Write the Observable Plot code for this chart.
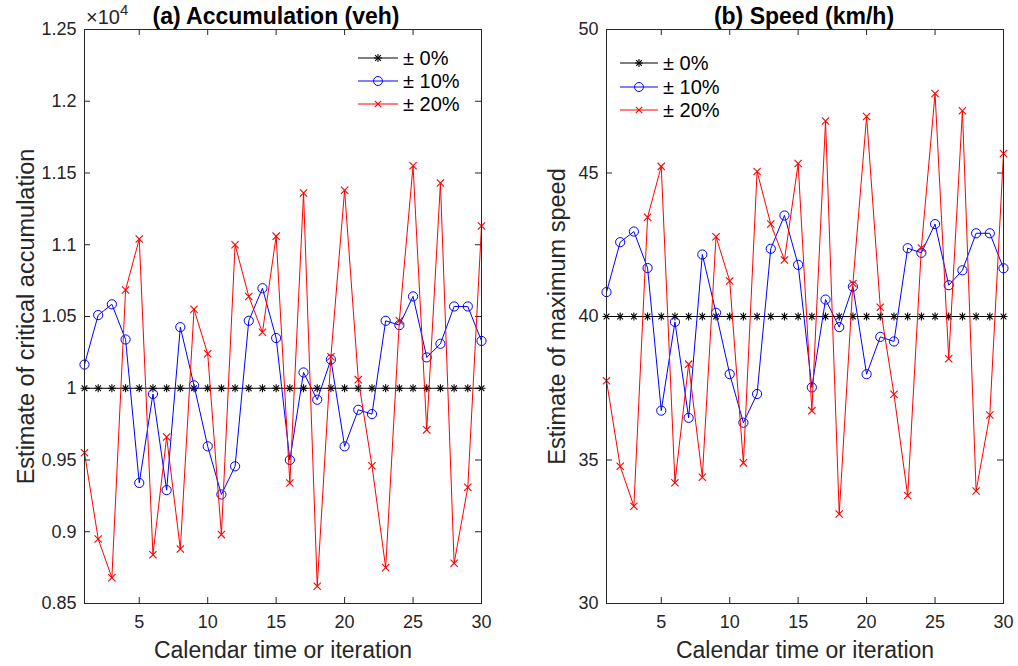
<!DOCTYPE html>
<html>
<head>
<meta charset="utf-8">
<script src="https://cdn.jsdelivr.net/npm/d3@7"></script>
<script src="https://cdn.jsdelivr.net/npm/@observablehq/plot@0.6"></script>
<style>
  html, body { margin: 0; padding: 0; background: #fff; }
  #wrap { position: relative; width: 1018px; height: 666px; background: #fff; overflow: hidden;
          font-family: "Liberation Sans", Arial, Helvetica, sans-serif; }
  #left, #right { position: absolute; top: 0; }
  #left { left: 0; }
  #right { left: 509px; }
  #overlay { position: absolute; left: 0; top: 0; pointer-events: none; }
</style>
</head>
<body>
<div id="wrap">
  <div id="left"></div>
  <div id="right"></div>
  <svg id="overlay" width="1018" height="666"></svg>
</div>
<script>
// ---------------- data ----------------
const iterations = d3.range(1, 31);
const seriesNames = ["± 0%", "± 10%", "± 20%"];
const seriesColors = ["#000000", "#0000ff", "#ff0000"];

// (a) Accumulation (veh)
const acc0 = [10000,10000,10000,10000,10000,10000,10000,10000,10000,10000,
              10000,10000,10000,10000,10000,10000,10000,10000,10000,10000,
              10000,10000,10000,10000,10000,10000,10000,10000,10000,10000];
const acc10 = [10165,10510,10585,10340,9340,9960,9290,10426,10020,9595,
               9260,9456,10470,10697,10350,9500,10110,9920,10200,9595,
               9850,9820,10470,10440,10640,10215,10310,10570,10570,10330];
const acc20 = [9550,8950,8680,10685,11040,8840,9660,8880,10550,10240,
               8980,11000,10640,10390,11060,9340,11360,8620,10220,11380,
               10060,9460,8750,10470,11550,9710,11430,8780,9310,11130];

// (b) Speed (km/h)
const spd0 = [40,40,40,40,40,40,40,40,40,40,40,40,40,40,40,
              40,40,40,40,40,40,40,40,40,40,40,40,40,40,40];
const spd10 = [40.85,42.59,42.96,41.69,36.72,39.81,36.47,42.16,40.13,37.99,
               36.30,37.30,42.36,43.52,41.80,37.53,40.59,39.63,41.04,37.99,
               39.29,39.13,42.38,42.22,43.22,41.09,41.61,42.90,42.90,41.68];
const spd20 = [37.76,34.78,33.39,43.46,45.23,34.21,38.34,34.40,42.78,41.24,
               34.90,45.05,43.22,41.97,45.33,36.72,46.81,33.12,41.15,46.97,
               40.32,37.29,33.76,42.39,47.77,38.53,47.17,33.92,36.57,45.68];

// ticks and labels
const xTicks = [5, 10, 15, 20, 25, 30];
const accTicks = [8500, 9000, 9500, 10000, 10500, 11000, 11500, 12000, 12500];
const spdTicks = [30, 35, 40, 45, 50];
const xLabel = "Calendar time or iteration";
const accYLabel = "Estimate of critical accumulation";
const spdYLabel = "Estimate of maximum speed";
const accTitle = "(a) Accumulation (veh)";
const spdTitle = "(b) Speed (km/h)";

// --------------- build ---------------
const FONT = '"Liberation Sans", Arial, Helvetica, sans-serif';
const AX = "#262626";
const W = 509, H = 666, MT = 29, MB = 63;
const plotW = 397, plotH = H - MT - MB;
const TL = 6; // inward tick length

function table(vals) {
  return iterations.map((x, i) => ({x, y: vals[i]}));
}

function panel({series, ticks, domain, marginLeft, marginRight, yFormat, yLabel, yLabelDx}) {
  const [s0, s1, s2] = series.map(table);
  return Plot.plot({
    width: W, height: H,
    marginLeft, marginRight, marginTop: MT, marginBottom: MB,
    x: {domain: [1, 30]},
    y: {domain},
    style: {fontFamily: FONT, fontSize: "18px", color: AX, background: "#fff", overflow: "visible"},
    marks: [
      Plot.axisX(xTicks, {tickSize: 0, tickPadding: 12, label: null, fontSize: 18}),
      Plot.axisY(ticks, {tickSize: 0, tickPadding: 8, tickFormat: yFormat, label: null, fontSize: 18}),
      // inward ticks on all four sides (MATLAB box style)
      Plot.tickX(xTicks, {x: d => d, insetTop: plotH - TL, stroke: AX}),
      Plot.tickX(xTicks, {x: d => d, insetBottom: plotH - TL, stroke: AX}),
      Plot.tickY(ticks, {y: d => d, insetRight: plotW - TL, stroke: AX}),
      Plot.tickY(ticks, {y: d => d, insetLeft: plotW - TL, stroke: AX}),
      // ± 0%
      Plot.line(s0, {x: "x", y: "y", stroke: seriesColors[0], strokeWidth: 1}),
      Plot.dot(s0, {x: "x", y: "y", symbol: "plus", r: 2.7, stroke: seriesColors[0], strokeWidth: 1.1}),
      Plot.dot(s0, {x: "x", y: "y", symbol: "times", r: 2.7, stroke: seriesColors[0], strokeWidth: 1.1}),
      // ± 10%
      Plot.line(s1, {x: "x", y: "y", stroke: seriesColors[1], strokeWidth: 1}),
      Plot.dot(s1, {x: "x", y: "y", symbol: "circle", r: 4.6, stroke: seriesColors[1], fill: "none", strokeWidth: 1}),
      // ± 20%
      Plot.line(s2, {x: "x", y: "y", stroke: seriesColors[2], strokeWidth: 1}),
      Plot.dot(s2, {x: "x", y: "y", symbol: "times", r: 3.4, stroke: seriesColors[2], strokeWidth: 1.1}),
      Plot.frame({stroke: AX, strokeWidth: 1}),
      // axis labels
      Plot.text([xLabel], {text: d => d, frameAnchor: "bottom", dy: 47, fontSize: 23, fill: AX,
                           textAnchor: "middle", lineAnchor: "middle"}),
      Plot.text([yLabel], {text: d => d, frameAnchor: "left", dx: yLabelDx, rotate: -90, fontSize: 23.5, fill: AX,
                           textAnchor: "middle", lineAnchor: "middle"})
    ]
  });
}

document.getElementById("left").appendChild(panel({
  series: [acc0, acc10, acc20], ticks: accTicks, domain: [8500, 12500],
  marginLeft: 84, marginRight: W - 84 - plotW,
  yFormat: d => String(+(d / 1e4).toFixed(2)),
  yLabel: accYLabel, yLabelDx: -58
}));
document.getElementById("right").appendChild(panel({
  series: [spd0, spd10, spd20], ticks: spdTicks, domain: [30, 50],
  marginLeft: 97, marginRight: W - 97 - plotW,
  yFormat: d => String(d),
  yLabel: spdYLabel, yLabelDx: -49
}));

// --------------- titles, exponent, legends ---------------
const ov = d3.select("#overlay").style("font-family", FONT);
ov.append("text").attr("x", 276).attr("y", 24).attr("text-anchor", "middle")
  .attr("font-weight", "bold").attr("font-size", 23).attr("fill", "#000").text(accTitle);
ov.append("text").attr("x", 804).attr("y", 24).attr("text-anchor", "middle")
  .attr("font-weight", "bold").attr("font-size", 23).attr("fill", "#000").text(spdTitle);
ov.append("text").attr("x", 86).attr("y", 24).attr("font-size", 20).attr("fill", AX).text("×10");
ov.append("text").attr("x", 120).attr("y", 15).attr("font-size", 15).attr("fill", AX).text("4");

function symPath(type, r) {
  return d3.symbol(type, Math.PI * r * r)();
}
function legend(x0, x1, rows) {
  const xm = (x0 + x1) / 2;
  rows.forEach((y, i) => {
    const g = ov.append("g");
    g.append("line").attr("x1", x0).attr("x2", x1).attr("y1", y).attr("y2", y)
      .attr("stroke", seriesColors[i]).attr("stroke-width", 1);
    const mk = (type, r, sw) => g.append("path").attr("d", symPath(type, r))
      .attr("transform", `translate(${xm},${y})`).attr("fill", "none")
      .attr("stroke", seriesColors[i]).attr("stroke-width", sw);
    if (i === 0) { mk(d3.symbolPlus, 2.7, 1.1); mk(d3.symbolTimes, 2.7, 1.1); }
    if (i === 1) mk(d3.symbolCircle, 4.5, 1);
    if (i === 2) mk(d3.symbolTimes, 3.0, 1.1);
    g.append("text").attr("x", x1 + 5).attr("y", y + 7).attr("font-size", 20)
      .attr("fill", "#000").text(seriesNames[i]);
  });
}
legend(358, 398, [58, 81, 104]);
legend(620, 658, [63, 87, 110]);
</script>
</body>
</html>
